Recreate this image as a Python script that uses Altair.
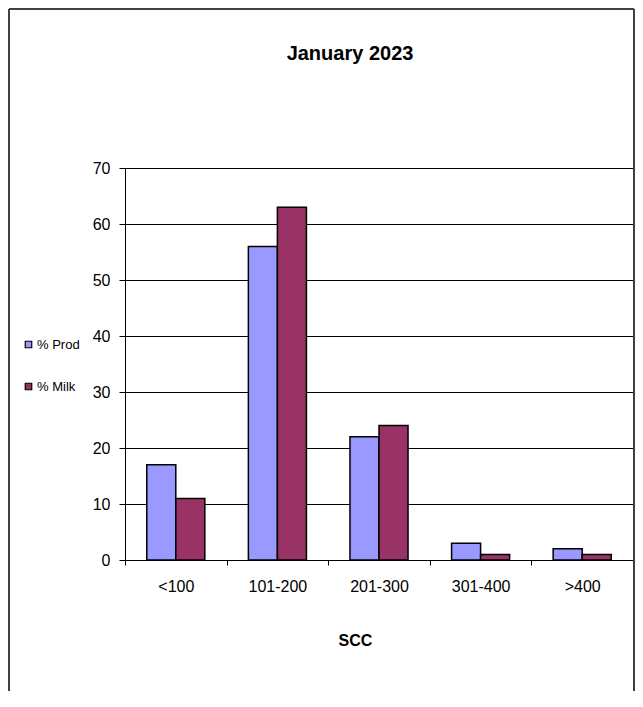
import altair as alt
import pandas as pd

categories = ["<100", "101-200", "201-300", "301-400", ">400"]
series = ["% Prod", "% Milk"]
prod = [17, 56, 22, 3, 2]
milk = [11, 63, 24, 1, 1]
colors = ["#9999FF", "#993366"]
y_ticks = [0, 10, 20, 30, 40, 50, 60, 70]
title_text = "January 2023"

rows = []
for c, p, m in zip(categories, prod, milk):
    rows.append({"SCC": c, "Series": series[0], "Value": p})
    rows.append({"SCC": c, "Series": series[1], "Value": m})
df = pd.DataFrame(rows)

W, H = 508, 392
PAD_L, PAD_T, PAD_R, PAD_B = 117, 160, 2, 131
FONT = "Liberation Sans"

bars = alt.Chart(df).mark_bar(stroke="black", strokeWidth=1.5).encode(
    x=alt.X(
        "SCC:N", sort=categories,
        scale=alt.Scale(paddingInner=0, paddingOuter=0),
        axis=alt.Axis(
            title="SCC", tickBand="extent", labelAngle=0, grid=False,
            labelFont=FONT, labelFontSize=16, labelColor="black", labelPadding=13,
            tickSize=5, tickColor="black", domainColor="black",
            titleFont=FONT, titleFontSize=16, titleFontWeight="bold", titleColor="black",
            titlePadding=38, titleX=230,
        ),
    ),
    xOffset=alt.XOffset("Series:N", sort=series,
                        scale=alt.Scale(paddingInner=0, paddingOuter=0.75)),
    y=alt.Y(
        "Value:Q",
        scale=alt.Scale(domain=[0, 70], nice=False),
        axis=alt.Axis(
            title=None, values=y_ticks, grid=True, gridColor="black", gridWidth=1,
            labelFont=FONT, labelFontSize=16, labelColor="black", labelPadding=9,
            tickSize=6, tickColor="black", domainColor="black",
        ),
    ),
    color=alt.Color(
        "Series:N", sort=series,
        scale=alt.Scale(domain=series, range=colors),
        legend=alt.Legend(
            orient="none", legendX=-103, legendY=170, title=None, padding=0,
            symbolType="square", symbolSize=42, symbolStrokeColor="black",
            symbolStrokeWidth=1.2, labelFont=FONT, labelFontSize=13,
            labelColor="black", rowPadding=28, labelOffset=2,
        ),
    ),
)

one = alt.Data(values=[{"k": 0}])
title_mark = alt.Chart(one).mark_text(
    text=title_text, font=FONT, fontSize=20,
    fontWeight="bold", color="black", align="center", baseline="alphabetic",
).encode(x=alt.value(225), y=alt.value(-108))

frame_style = dict(color="#404040", strokeWidth=2)
top_edge = alt.Chart(one).mark_rule(**frame_style).encode(
    x=alt.value(-116), x2=alt.value(509), y=alt.value(-159), y2=alt.value(-159))
left_edge = alt.Chart(one).mark_rule(**frame_style).encode(
    x=alt.value(-116), x2=alt.value(-116), y=alt.value(-159), y2=alt.value(523))
right_edge = alt.Chart(one).mark_rule(**frame_style).encode(
    x=alt.value(509), x2=alt.value(509), y=alt.value(-159), y2=alt.value(523))

chart = alt.layer(bars, title_mark, top_edge, left_edge, right_edge).properties(
    width=W, height=H,
    padding={"left": PAD_L, "top": PAD_T, "right": PAD_R, "bottom": PAD_B},
    autosize="none",
).configure_view(
    fill="#C0C0C0", stroke="#808080", strokeWidth=1
).configure(background="white")

chart.save("out.html", embed_options={"renderer": "svg", "actions": False})
